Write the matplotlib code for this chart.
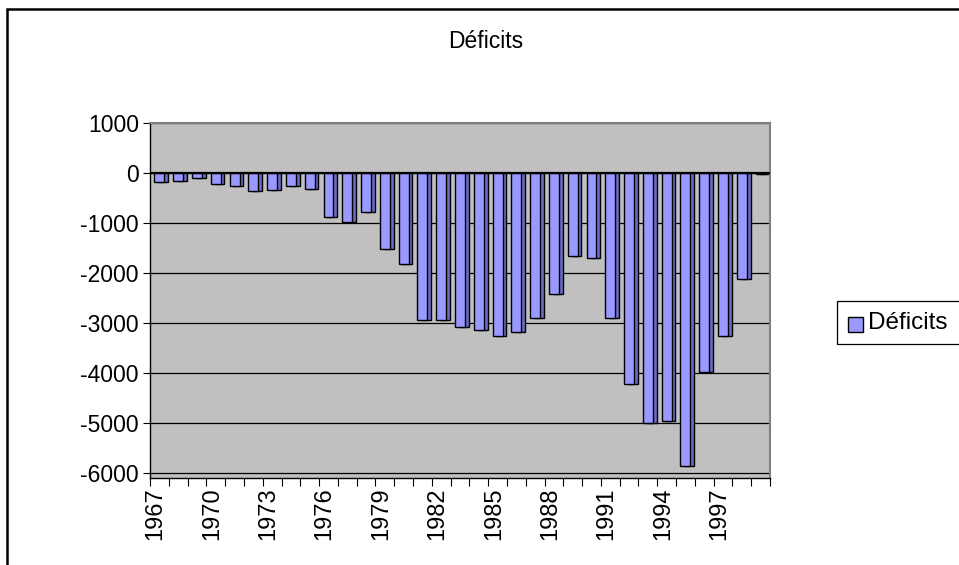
import matplotlib
matplotlib.use("Agg")
import matplotlib.pyplot as plt
from matplotlib.patches import Rectangle
import numpy as np

plt.rcParams['font.family'] = ['Liberation Sans', 'DejaVu Sans']

years = list(range(1967, 2000))
deficits = [-180, -170, -110, -230, -270, -360, -350, -270, -320, -880,
            -990, -790, -1520, -1830, -2950, -2950, -3080, -3150, -3270, -3180,
            -2900, -2420, -1670, -1710, -2900, -4230, -5000, -4960, -5870, -3990,
            -3270, -2130, -30]
yticks = [1000, 0, -1000, -2000, -3000, -4000, -5000, -6000]
series_name = "Déficits"
title = "Déficits"

W, H = 959, 565
fig = plt.figure(figsize=(W / 100, H / 100), dpi=100)

# outer chart border
fig.patches.append(Rectangle((7 / W, -0.1), 1.2, 1 - 9 / H + 0.1, transform=fig.transFigure,
                             fill=False, edgecolor='black', linewidth=1.8))

left, right, top, bottom = 150, 770, 122.7, 478
ax = fig.add_axes([left / W, 1 - bottom / H, (right - left) / W, (bottom - top) / H])
ax.set_facecolor('#C0C0C0')

x = np.arange(len(years))
ax.set_xlim(-0.5, len(years) - 0.5)
ax.set_ylim(-6106, 1000)

for v in yticks:
    ax.axhline(v, color='black', linewidth=0.9, zorder=1)
ax.axhline(0, color='black', linewidth=1.6, zorder=4)

bw = 0.53
ax.bar(x + 0.2, deficits, width=bw, color='#6B6BC8', edgecolor='black', linewidth=1.0, zorder=2)
ax.bar(x, deficits, width=bw, color='#9999FF', edgecolor='black', linewidth=1.0, zorder=3)

ax.set_yticks(yticks)
ax.set_yticklabels([str(v) for v in yticks], fontsize=16.5)
ax.set_xticks(x[::3] - 0.2)
ax.set_xticklabels([str(y) for y in years[::3]], rotation=90, fontsize=17)
ax.set_xticks(np.arange(len(years) + 1) - 0.5, minor=True)
ax.tick_params(axis='x', which='major', length=0, pad=7)
ax.tick_params(axis='x', which='minor', length=6, width=0.8, direction='out')
ax.tick_params(axis='y', length=5, width=0.8, direction='out', pad=3)

for s in ['left', 'bottom']:
    ax.spines[s].set_color('black')
    ax.spines[s].set_linewidth(1.0)
for s in ['top', 'right']:
    ax.spines[s].set_color('#808080')
    ax.spines[s].set_linewidth(1.5)

fig.text(486 / W, 1 - 41 / H, title, ha='center', va='center', fontsize=16.5)

# legend (drawn manually to match the clipped box of the reference)
fig.patches.append(Rectangle((837 / W, 1 - 344 / H), 140 / W, 43 / H, transform=fig.transFigure,
                             facecolor='white', edgecolor='black', linewidth=0.9))
fig.patches.append(Rectangle((848 / W, 1 - 332 / H), 15 / W, 15 / H, transform=fig.transFigure,
                             facecolor='#9999FF', edgecolor='black', linewidth=1.0))
fig.text(868 / W, 1 - 323 / H, series_name, ha='left', va='center', fontsize=17.5)

fig.savefig('out.png', dpi=100)
